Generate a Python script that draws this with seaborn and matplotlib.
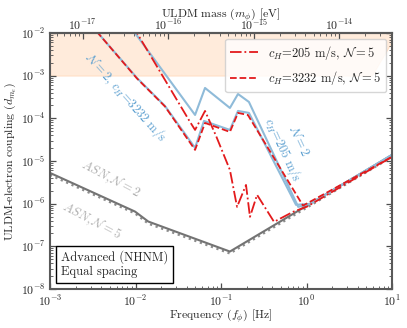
#!/usr/bin/env python
import matplotlib
matplotlib.use("Agg")
import matplotlib.pyplot as plt
import seaborn as sns
from matplotlib.offsetbox import AnchoredText

# Frequency [Hz] / coupling values
asn_freq = [1e-3, 9.86e-3, 1.41e-2, 0.127, 10.0]
asn_n2 = [5.26e-6, 6.53e-7, 3.81e-7, 7.55e-8, 1.39e-5]
asn_n5 = [4.7e-6, 5.9e-7, 3.4e-7, 6.8e-8, 1.25e-5]

blue205_freq = [8.34e-3, 9.86e-3, 4.97e-2, 6.50e-2, 0.127, 0.158, 0.212, 0.80, 1.10, 10.0]
blue205_d = [1.58e-2, 1e-2, 1.20e-4, 5.15e-4, 1.75e-4, 3.72e-4, 2.42e-4, 8.4e-7, 9.9e-7, 1.39e-5]

blue3232_freq = [2.95e-3, 3.64e-3, 1.04e-2, 2.21e-2, 4.97e-2, 6.32e-2, 0.127, 0.158, 0.212, 0.753, 1.10, 10.0]
blue3232_d = [1.58e-2, 1e-2, 8.83e-4, 1.95e-4, 2.03e-5, 8.69e-5, 5.35e-5, 1.49e-4, 1.34e-4, 9.4e-7, 9.9e-7, 1.39e-5]

red205_freq = [9.1e-3, 1.04e-2, 4.34e-2, 4.97e-2, 6.50e-2, 8.75e-2, 0.127, 0.154, 0.196,
               0.218, 0.264, 0.417, 0.695, 1.01, 10.0]
red205_d = [1.58e-2, 1e-2, 8.24e-5, 5.35e-5, 1.49e-4, 3.87e-5, 6.19e-6, 8.41e-7, 2.75e-6,
            4.91e-7, 1.61e-6, 3.75e-7, 6.43e-7, 8.5e-7, 1.25e-5]

red3232_freq = [2.95e-3, 3.64e-3, 1.04e-2, 2.21e-2, 4.97e-2, 6.50e-2, 0.127, 0.158, 0.206, 0.91, 10.0]
red3232_d = [1.58e-2, 1e-2, 8.6e-4, 1.9e-4, 1.82e-5, 7.8e-5, 4.8e-5, 1.34e-4, 1.2e-4, 9.0e-7, 1.25e-5]

excl_freq = [1e-3, 5.8, 10.0]
excl_d = [1e-3, 1e-3, 6.3e-3]

HZ_TO_EV = 4.1357e-15

BLUE = "#8fbbd9"
RED = "#e31a1c"


def main():
    sns.set_style("ticks")
    plt.rcParams.update({
        "font.family": "serif",
        "font.serif": ["cmr10", "DejaVu Serif"],
        "mathtext.fontset": "cm",
        "axes.formatter.use_mathtext": True,
        "axes.unicode_minus": False,
        "font.size": 8.5,
        "axes.labelsize": 8.5,
        "xtick.labelsize": 8.5,
        "ytick.labelsize": 8.5,
        "xtick.direction": "in",
        "ytick.direction": "in",
    })

    fig = plt.figure(figsize=(4.07, 3.28), dpi=100)
    ax = fig.add_axes([0.1229, 0.1189, 0.8403, 0.7805])
    ax.set_xscale("log")
    ax.set_yscale("log")

    # excluded region
    ax.fill_between(excl_freq, excl_d, 1e-1, color="tab:orange", alpha=0.15, lw=0.8, zorder=0)

    # ASN floors
    sns.lineplot(x=asn_freq, y=asn_n5, ax=ax, color="0.55", lw=1.6, ls=":", sort=False, estimator=None)
    sns.lineplot(x=asn_freq, y=asn_n2, ax=ax, color="0.45", lw=1.5, sort=False, estimator=None)

    # N=2 curves
    sns.lineplot(x=blue205_freq, y=blue205_d, ax=ax, color=BLUE, lw=1.5, sort=False, estimator=None)
    sns.lineplot(x=blue3232_freq, y=blue3232_d, ax=ax, color=BLUE, lw=1.5, sort=False, estimator=None)

    # N=5 curves
    sns.lineplot(x=red205_freq, y=red205_d, ax=ax, color=RED, lw=1.3, ls="-.", sort=False,
                 estimator=None, label=r"$c_H$=205 m/s, $\mathcal{N}=5$")
    sns.lineplot(x=red3232_freq, y=red3232_d, ax=ax, color=RED, lw=1.3, ls="--", sort=False,
                 estimator=None, label=r"$c_H$=3232 m/s, $\mathcal{N}=5$")

    ax.set_xlim(1e-3, 10)
    ax.set_ylim(1e-8, 1e-2)

    # curve labels
    ax.text(7.75e-3, 3.17e-4, r"$\mathcal{N}=2$, $c_H$=3232 m/s", color="#5b9fd0", fontsize=9,
            rotation=-48, ha="center", va="center")
    ax.text(0.641, 2.26e-5, "$\\mathcal{N}=2$\n$c_H$=205 m/s", color="#5b9fd0", fontsize=9,
            rotation=-65, ha="center", va="center", multialignment="center")
    ax.text(5.03e-3, 3.81e-6, r"$ASN, \mathcal{N}=2$", color="0.68", fontsize=9,
            rotation=-28, ha="center", va="center")
    ax.text(3.02e-3, 3.95e-7, r"$ASN, \mathcal{N}=5$", color="0.68", fontsize=9,
            rotation=-28, ha="center", va="center")

    box = AnchoredText("Advanced (NHNM)\nEqual spacing", loc="lower left", frameon=True,
                       prop=dict(fontsize=9), pad=0.4, borderpad=0.45)
    box.patch.set_boxstyle("square,pad=0")
    box.patch.set_edgecolor("black")
    box.patch.set_linewidth(1.0)
    ax.add_artist(box)

    ax.legend(loc="upper right", fontsize=9, handlelength=2.2, borderaxespad=0.45,
              labelspacing=0.6)

    ax.set_xlabel(r"Frequency ($f_\phi$) [Hz]", labelpad=-1)
    ax.set_ylabel(r"ULDM-electron coupling ($d_{m_e}$)", labelpad=2)

    ax.tick_params(which="both", direction="in", top=False, right=True, color="0.3")
    ax.tick_params(which="major", length=4, width=0.9)
    ax.tick_params(which="minor", length=2, width=0.6)
    for s in ax.spines.values():
        s.set_color("0.35")
        s.set_linewidth(1.5)

    secax = ax.secondary_xaxis("top", functions=(lambda f: f * HZ_TO_EV, lambda m: m / HZ_TO_EV))
    secax.set_xlabel(r"ULDM mass ($m_\phi$) [eV]", labelpad=0)
    secax.tick_params(which="both", direction="in", color="0.3", pad=0)
    secax.tick_params(which="major", length=4, width=0.9)
    secax.tick_params(which="minor", length=2, width=0.6)
    secax.spines["top"].set_color("0.35")
    secax.spines["top"].set_linewidth(1.5)

    fig.savefig("out.png", dpi=100)
    plt.close(fig)


if __name__ == "__main__":
    main()
